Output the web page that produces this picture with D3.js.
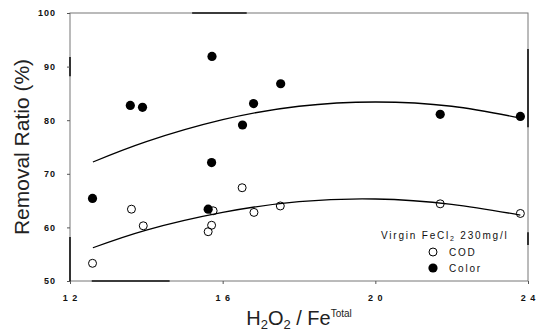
<!DOCTYPE html>
<html>
<head>
<meta charset="utf-8">
<script src="https://cdn.jsdelivr.net/npm/d3@7.9.0/dist/d3.min.js"></script>
<style>
  body { margin: 0; background: #fff; }
  svg { display: block; font-family: "Liberation Sans", Arial, sans-serif; }
</style>
</head>
<body>
<svg width="546" height="335"></svg>
<script>
// values
const ratioCOD = [1.259, 1.361, 1.392, 1.562, 1.571, 1.575, 1.651, 1.682, 1.751, 2.170, 2.380];
const cod = [53.3, 63.4, 60.3, 59.2, 60.4, 63.1, 67.4, 62.8, 64.0, 64.4, 62.6];
const ratioColor = [1.259, 1.358, 1.390, 1.572, 1.571, 1.562, 1.652, 1.681, 1.752, 2.170, 2.380];
const color = [65.4, 82.75, 82.4, 91.9, 72.1, 63.4, 79.1, 83.1, 86.8, 81.1, 80.7];
const fitRatio = [1.26, 1.4, 1.6, 1.8, 2.0, 2.2, 2.38];
const codFit = [56.2, 59.5, 62.8, 64.8, 65.3, 64.3, 62.3];
const colorFit = [72.2, 76.0, 80.1, 82.6, 83.4, 82.6, 80.4];
const xTicks = [1.2, 1.6, 2.0, 2.4];
const xTickLabels = ['1 2', '1 6', '2 0', '2 4'];
const yTicks = [50, 60, 70, 80, 90, 100];

let svg = d3.select('svg');
let x = d3.scaleLinear().domain([1.2, 2.4]).range([70, 528]);
let y = d3.scaleLinear().domain([50, 100]).range([281, 13]);

// frame
svg.append('rect')
  .attr('x', x(1.2)).attr('y', y(100))
  .attr('width', x(2.4) - x(1.2)).attr('height', y(50) - y(100))
  .attr('fill', 'none').attr('stroke', '#777').attr('stroke-width', 1);

// darker bits of the scanned frame
let heavy = svg.append('g').attr('stroke', '#111').attr('stroke-width', 1.6);
heavy.append('line').attr('x1', x(1.52)).attr('x2', x(1.663)).attr('y1', y(100)).attr('y2', y(100));
heavy.append('line').attr('x1', x(1.257)).attr('x2', x(1.461)).attr('y1', y(50)).attr('y2', y(50));
heavy.append('line').attr('x1', x(1.2)).attr('x2', x(1.2)).attr('y1', y(91.8)).attr('y2', y(88.2));
heavy.append('line').attr('x1', x(1.2)).attr('x2', x(1.2)).attr('y1', y(58.2)).attr('y2', y(50));
heavy.append('line').attr('x1', x(2.4)).attr('x2', x(2.4)).attr('y1', y(93.3)).attr('y2', y(78.7));
heavy.append('line').attr('x1', x(2.4)).attr('x2', x(2.4)).attr('y1', y(59.1)).attr('y2', y(56.7));

// axes
let xAxis = svg.append('g')
  .attr('transform', `translate(0,${y(50)})`)
  .call(d3.axisBottom(x).tickValues(xTicks).tickSize(3).tickFormat((d, i) => xTickLabels[i]));
let yAxis = svg.append('g')
  .attr('transform', `translate(${x(1.2)},0)`)
  .call(d3.axisLeft(y).tickValues(yTicks).tickSize(3));
[xAxis, yAxis].forEach((g) => {
  g.select('.domain').remove();
  g.selectAll('line').attr('stroke', '#555');
  g.selectAll('text')
    .attr('fill', '#111')
    .style('font-size', '9px')
    .style('font-weight', 'bold')
    .style('letter-spacing', '1px');
});
xAxis.selectAll('text').attr('dy', '1.6em');
yAxis.selectAll('text').attr('x', -14);

// fitted curves
let line = d3.line().x((d) => x(d[0])).y((d) => y(d[1])).curve(d3.curveNatural);
[colorFit, codFit].forEach((fit) => {
  svg.append('path')
    .attr('d', line(fitRatio.map((r, i) => [r, fit[i]])))
    .attr('fill', 'none')
    .attr('stroke', '#000')
    .attr('stroke-width', 1.3);
});

// points
svg.append('g').selectAll('circle')
  .data(ratioCOD.map((r, i) => [r, cod[i]]))
  .join('circle')
  .attr('cx', (d) => x(d[0])).attr('cy', (d) => y(d[1])).attr('r', 4)
  .attr('fill', 'none').attr('stroke', '#000').attr('stroke-width', 1);
svg.append('g').selectAll('circle')
  .data(ratioColor.map((r, i) => [r, color[i]]))
  .join('circle')
  .attr('cx', (d) => x(d[0])).attr('cy', (d) => y(d[1])).attr('r', 4.6)
  .attr('fill', '#000');

// legend
let legend = svg.append('g').style('font-size', '10px').style('letter-spacing', '1.8px').attr('fill', '#111');
let note = legend.append('text').attr('x', 381).attr('y', 239);
note.append('tspan').text('Virgin FeCl');
note.append('tspan').attr('dy', 2).style('font-size', '7px').text('2');
note.append('tspan').attr('dy', -2).text(' 230mg/l');
legend.append('circle').attr('cx', 433).attr('cy', 252).attr('r', 4)
  .attr('fill', 'none').attr('stroke', '#000');
legend.append('text').attr('x', 449).attr('y', 256).text('COD');
legend.append('circle').attr('cx', 433).attr('cy', 268).attr('r', 4.6).attr('fill', '#000');
legend.append('text').attr('x', 449).attr('y', 272).text('Color');

// titles
svg.append('text')
  .attr('transform', `translate(29,${(y(50) + y(100)) / 2}) rotate(-90)`)
  .attr('text-anchor', 'middle')
  .style('font-size', '21px')
  .attr('fill', '#222')
  .text('Removal Ratio (%)');

let xt = svg.append('text')
  .attr('x', (x(1.2) + x(2.4)) / 2).attr('y', 325)
  .attr('text-anchor', 'middle')
  .style('font-size', '20px')
  .attr('fill', '#222');
xt.append('tspan').text('H');
xt.append('tspan').attr('dy', 4).style('font-size', '13px').text('2');
xt.append('tspan').attr('dy', -4).text('O');
xt.append('tspan').attr('dy', 4).style('font-size', '13px').text('2');
xt.append('tspan').attr('dy', -4).text(' / Fe');
xt.append('tspan').attr('dy', -8).style('font-size', '10px').text('Total');
</script>
</body>
</html>
